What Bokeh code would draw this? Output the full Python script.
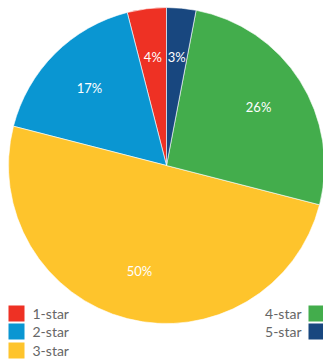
import math
from bokeh.plotting import figure
from bokeh.models import Range1d
from bokeh.core.properties import value
from bokeh.embed import file_html
from bokeh.resources import INLINE

categories = ["1-star", "2-star", "3-star", "4-star", "5-star"]
shares = [4, 17, 50, 26, 3]
colors = ["#EE3124", "#0A96D2", "#FEC42C", "#43AD4C", "#18477F"]

W, H = 323, 361
p = figure(width=W, height=H, output_backend="svg", toolbar_location=None,
           x_range=Range1d(0, W), y_range=Range1d(0, H), min_border=0)
p.axis.visible = False
p.grid.visible = False
p.outline_line_color = None
p.background_fill_color = "white"

cx, cy, R = 166, 361 - 165, 158
total = sum(shares)
start = math.pi / 2
starts, ends, lx, ly, labels = [], [], [], [], []
for v in shares:
    a = 2 * math.pi * v / total
    starts.append(start)
    ends.append(start + a)
    mid = start + a / 2
    lx.append(cx + 0.69 * R * math.cos(mid))
    ly.append(cy + 0.69 * R * math.sin(mid))
    labels.append(f"{v}%")
    start += a

p.wedge(x=cx, y=cy, radius=R, start_angle=starts, end_angle=ends,
        direction="anticlock", fill_color=colors, line_color="white", line_width=0.6)
p.text(x=lx, y=ly, text=labels, text_color="white", text_font=value("Lato"),
       text_font_size="13px", text_align="center", text_baseline="middle")

# legend
left = [0, 1, 2]
right = [3, 4]
row_y = [H - 313, H - 331, H - 350]
p.rect(x=[16] * 3, y=row_y, width=16, height=16,
       fill_color=[colors[i] for i in left], line_color=None)
p.text(x=[32] * 3, y=row_y, text=[categories[i] for i in left], text_color="#666666",
       text_font=value("Lato"), text_font_size="14px", text_baseline="middle")
p.rect(x=[316] * 2, y=row_y[:2], width=16, height=16,
       fill_color=[colors[i] for i in right], line_color=None)
p.text(x=[301] * 2, y=row_y[:2], text=[categories[i] for i in right], text_color="#666666",
       text_font=value("Lato"), text_font_size="14px", text_baseline="middle", text_align="right")

open("out.html", "w").write(file_html(p, INLINE))
